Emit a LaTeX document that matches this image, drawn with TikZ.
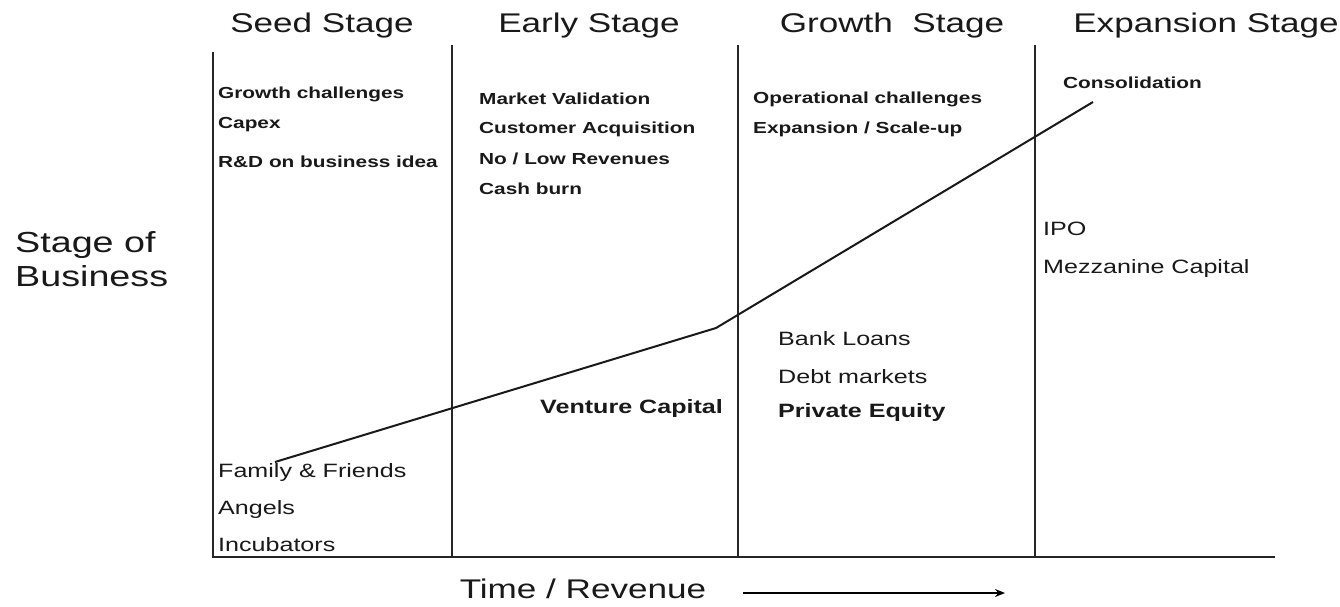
\documentclass[tikz,border=0pt]{standalone}
\usepackage{fontspec}
\setmainfont[FakeStretch=1.3]{Liberation Sans}
\usetikzlibrary{arrows.meta}
\begin{document}
\begin{tikzpicture}[x=1pt,y=-1pt,
  axis/.style={line width=2pt,draw=black!85},
  curve/.style={line width=2pt,draw=black!90},
  head/.style={anchor=base,inner sep=0pt,font=\fontsize{27}{30}\selectfont,text=black!90},
  side/.style={anchor=base west,inner sep=0pt,font=\fontsize{29}{32}\selectfont,text=black!90},
  small/.style={anchor=base west,inner sep=0pt,font=\fontsize{16}{18}\selectfont\bfseries,text=black!90},
  big/.style={anchor=base west,inner sep=0pt,font=\fontsize{19.3}{22}\selectfont,text=black!90},
  bigb/.style={big,font=\fontsize{19.3}{22}\selectfont\bfseries}]
\useasboundingbox[fill=white] (0,0) rectangle (1340,606);
% axes
\coordinate (o) at (213,557);
\coordinate (ytop) at (213,52);
\coordinate (xend) at (1275,557);
\coordinate (a1t) at (452,45); \coordinate (a1b) at (452,557);
\coordinate (a2t) at (738,45); \coordinate (a2b) at (738,557);
\coordinate (a3t) at (1035,45); \coordinate (a3b) at (1035,557);
\draw[axis] (ytop) -- (o) -- (xend);
\draw[axis] (a1t) -- (a1b);
\draw[axis] (a2t) -- (a2b);
\draw[axis] (a3t) -- (a3b);
% growth curve
\coordinate (c0) at (275,462);
\coordinate (c1) at (716,328);
\coordinate (c2) at (1093,102);
\draw[curve] (c0) -- (c1) -- (c2);
% headings
\node[head] (h1) at (322,32) {Seed Stage};
\node[head] (h2) at (589,32) {Early Stage};
\node[head] (h3) at (892,32) {Growth\ \ Stage};
\node[head] (h4) at (1206,32) {Expansion Stage};
% side label
\node[side] (s1) at (15,252) {Stage of};
\node[side] (s2) at (15,286) {Business};
% seed
\node[small] (g1) at (218,98) {Growth challenges};
\node[small] (g2) at (218,128) {Capex};
\node[small] (g3) at (218,167) {R\&D on business idea};
% early
\node[small] (e1) at (479,104) {Market Validation};
\node[small] (e2) at (479,133) {Customer Acquisition};
\node[small] (e3) at (479,164) {No / Low Revenues};
\node[small] (e4) at (479,194) {Cash burn};
% growth
\node[small] (r1) at (753,103) {Operational challenges};
\node[small] (r2) at (753,133) {Expansion / Scale-up};
% expansion
\node[small] (x1) at (1063,88) {Consolidation};
% funding
\node[big] (f1) at (218,477) {Family \& Friends};
\node[big] (f2) at (218,514) {Angels};
\node[big] (f3) at (218,551) {Incubators};
\node[bigb] (v1) at (540,413) {Venture Capital};
\node[big] (b1) at (778,345) {Bank Loans};
\node[big] (b2) at (778,383) {Debt markets};
\node[bigb] (b3) at (778,417) {Private Equity};
\node[big] (i1) at (1043,235) {IPO};
\node[big] (i2) at (1043,273) {Mezzanine Capital};
% x label
\node[head] (t1) at (583,598) {Time / Revenue};
\coordinate (ar0) at (743,593);
\coordinate (ar1) at (1005,593);
\draw[line width=1.6pt,-{Stealth[length=10pt,width=8pt]}] (ar0) -- (ar1);
\end{tikzpicture}
\end{document}
